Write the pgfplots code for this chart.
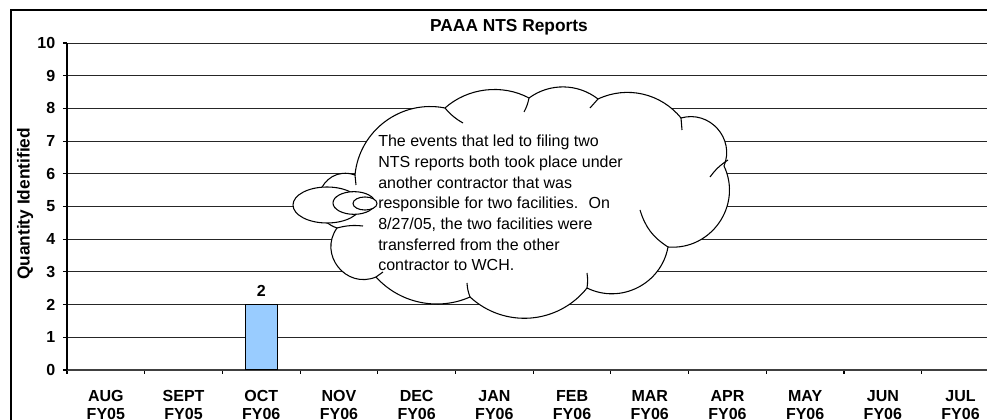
\documentclass[border=0pt]{standalone}
\usepackage{pgfplots}
\pgfplotsset{compat=1.18}
\usepackage{fontspec}
\setmainfont{Liberation Sans}
\definecolor{barblue}{HTML}{99CCFF}
\begin{document}
\begin{tikzpicture}[font=\fontsize{12}{14}\selectfont]
\begin{scope}
\path[use as bounding box] (-50.25pt,-37.5pt) rectangle (690pt,277.5pt);
\clip (-50.25pt,-37.5pt) rectangle (690pt,277.5pt);
\begin{axis}[
  at={(0pt,0pt)}, anchor=south west,
  scale only axis, width=699.3pt, height=245.25pt,
  xmin=-0.5, xmax=11.5, ymin=0, ymax=10,
  axis lines=left, axis line style={-},
  x axis line style={line width=1.5pt, black!75},
  y axis line style={line width=0.8pt, black},
  xtick={0,...,11},
  xticklabels={{AUG\\FY05},{SEPT\\FY05},{OCT\\FY06},{NOV\\FY06},{DEC\\FY06},{JAN\\FY06},{FEB\\FY06},{MAR\\FY06},{APR\\FY06},{MAY\\FY06},{JUN\\FY06},{JUL\\FY06}},
  major x tick style={draw=none},
  minor xtick={-0.5,0.5,...,11.5},
  minor tick length=3pt,
  major tick length=3pt,
  tick align=outside,
  ytick={0,...,10},
  /pgf/number format/assume math mode=true,
  xticklabel style={align=center, font=\bfseries\fontsize{12}{13.5}\selectfont, yshift=-9pt},
  yticklabel style={font=\bfseries\fontsize{12}{14}\selectfont, xshift=-2.25pt},
  tick style={black, line width=0.8pt},
  ymajorgrids,
  major grid style={black!85, line width=0.7pt},
  ylabel={Quantity Identified},
  ylabel style={at={(axis description cs:-0.045,0.508)}, anchor=center, font=\bfseries\fontsize{13}{15}\selectfont},
  ybar, bar width=24pt,
  nodes near coords,
  every node near coord/.append style={font=\bfseries\fontsize{12}{14}\selectfont, yshift=2.5pt},
]
\addplot[fill=barblue, draw=black, line width=0.8pt, y filter/.expression={y==0 ? nan : y}] coordinates {
(0,0) (1,0) (2,2) (3,0) (4,0) (5,0) (6,0) (7,0) (8,0) (9,0) (10,0) (11,0)};
\end{axis}
\begin{scope}[x=0.75pt,y=0.75pt]
\draw[line width=1.5pt] (-56,-100) rectangle (1000,360);
\node[font=\bfseries\fontsize{13}{15}\selectfont] at (442,342.5) {PAAA NTS Reports};
% cloud outline
\draw[fill=white, line width=0.8pt]
  (270,142) to[bend right=74, looseness=1.33] (309,93)
  to[bend right=36, looseness=0.94] (403,73)
  to[bend right=47, looseness=1.02] (520,82)
  to[bend right=53, looseness=1.06] (601,123)
  to[bend right=60, looseness=1.13] (657,204)
  to[bend right=64, looseness=1.18] (614,252)
  to[bend right=38, looseness=0.96] (531,271)
  to[bend right=37, looseness=0.95] (462,272)
  to[bend right=35, looseness=0.92] (378,262)
  to[bend right=48, looseness=1.02] (288,195)
  to[bend right=90, looseness=1.7] cycle;
% inner strokes of the cloud
\draw[line width=0.8pt]
  (270,142) to[bend left=10] (296,144)
  (309,93) -- (316,98)
  (403,73) to[bend left=8] (400,87)
  (520,82) to[bend right=8] (520,97)
  (601,123) to[bend left=20] (573,160)
  (661,210) to[bend right=10] (643,193)
  (614,252) -- (615,240)
  (531,271) -- (523,262)
  (462,272) to[bend left=8] (457,258)
  (378,262) to[bend right=10] (396,247)
  (288,195) -- (289,185);
% callout bubbles
\draw[fill=white, line width=0.8pt] (260,165) ellipse [x radius=25.5pt, y radius=13.5pt];
\draw[fill=white, line width=0.8pt] (287,167) ellipse [x radius=15.75pt, y radius=8.5pt];
\draw[fill=white, line width=0.8pt] (298,166.5) ellipse [x radius=9pt, y radius=4.9pt];
\node[anchor=north west, inner sep=0pt, align=left, font=\fontsize{12}{15.5}\selectfont] at (311,235)
 {The events that led to filing two\\NTS reports both took place under\\another contractor that was\\responsible for two facilities.~ On\\8/27/05, the two facilities were\\transferred from the other\\contractor to WCH.};
\end{scope}
\end{scope}
\end{tikzpicture}
\end{document}
